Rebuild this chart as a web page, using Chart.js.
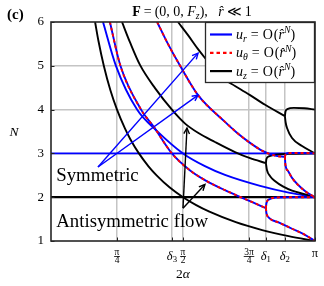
<!DOCTYPE html>
<html>
<head>
<meta charset="utf-8">
<script src="https://cdn.jsdelivr.net/npm/chart.js@4.4.0/dist/chart.umd.min.js"></script>
<style>
html,body{margin:0;padding:0;background:#fff;}
canvas{display:block;}
</style>
</head>
<body>
<canvas id="c" width="324" height="286"></canvas>
<script>
// ---------- DATA (x in units of pi, i.e. 2α/π ; y = N) ----------
const X_TICK_VALUES = [0.25, 0.458, 0.5, 0.75, 0.814, 0.886, 1];
const X_TICK_LABELS = ['π/4', 'δ3', 'π/2', '3π/4', 'δ1', 'δ2', 'π'];
const Y_TICK_VALUES = [1, 2, 3, 4, 5, 6];

// u_z (black) curves
const UZ_A = [[0.167,6],[0.18,5.56],[0.2,5],[0.225,4.44],[0.25,4],[0.28,3.57],[0.3,3.33],[0.333,3],[0.37,2.7],[0.4,2.5],[0.45,2.22],[0.5,2],[0.55,1.82],[0.6,1.67],[0.7,1.43],[0.8,1.25],[0.9,1.11],[1,1]];
const UZ_B = [[0.269,6],[0.299,5.54],[0.337,5.02],[0.394,4.49],[0.462,3.97],[0.508,3.68],[0.557,3.47],[0.621,3.26],[0.697,3.03],[0.754,2.89],[0.814,2.78]];
const UZ_B_UP = [[0.814,2.78],[0.816,2.87],[0.825,2.93],[0.85,2.97],[0.9,2.99],[1,3]];
const UZ_B_LOW = [[0.814,2.78],[0.818,2.62],[0.83,2.48],[0.848,2.37],[0.88,2.24],[0.913,2.15],[0.96,2.07],[1,2]];
const UZ_C = [[0.481,6],[0.519,5.7],[0.557,5.38],[0.595,5.09],[0.625,4.86],[0.659,4.68],[0.697,4.54],[0.754,4.33],[0.811,4.11],[0.886,3.85]];
const UZ_C_UP = [[0.886,3.85],[0.888,3.95],[0.895,4.01],[0.92,4.04],[0.96,4.03],[1,4]];
const UZ_C_LOW = [[0.886,3.85],[0.889,3.7],[0.894,3.58],[0.913,3.35],[0.951,3.17],[1,3]];
const UZ_FLAT = [[0,2],[1,2]];

// u_r only (blue)
const UR_FLAT = [[0,3],[1,3]];
const UR_B = [[0.197,6],[0.246,5],[0.326,4],[0.402,3.51],[0.5,3],[0.583,2.71],[0.659,2.51],[0.792,2.26],[0.905,2.1],[1,2]];

// u_r and u_theta (blue + red dashed)
const URT_A = [[0.223,6],[0.263,5],[0.341,4],[0.39,3.6],[0.458,3],[0.527,2.61],[0.583,2.39],[0.659,2.16],[0.754,1.91],[0.814,1.75]];
const URT_A_UP = [[0.814,1.75],[0.816,1.86],[0.826,1.95],[0.85,1.99],[0.9,2],[1,2]];
const URT_A_LOW = [[0.814,1.75],[0.816,1.64],[0.826,1.53],[0.864,1.42],[0.913,1.28],[0.962,1.14],[1,1]];
const URT_B = [[0.402,6],[0.443,5.5],[0.489,5],[0.557,4.33],[0.659,3.72],[0.701,3.49],[0.754,3.24],[0.803,3.05],[0.848,2.95],[0.886,2.92]];
const URT_B_UP = [[0.886,2.92],[0.889,2.98],[0.9,3.01],[0.95,3.01],[1,3]];
const URT_B_LOW = [[0.886,2.92],[0.888,2.74],[0.898,2.6],[0.913,2.44],[0.962,2.14],[1,2]];

// annotation arrows [x0, N0, x1, N1]
const SYM_ARROWS = [[0.178,2.69,0.557,5.29],[0.178,2.69,0.557,4.33]];
const ANTI_ARROWS = [[0.5,1.75,0.515,3.58],[0.5,1.75,0.583,2.29]];
const SYM_TEXT = {x:0.02, y:2.37, t:'Symmetric'};
const ANTI_TEXT = {x:0.02, y:1.32, t:'Antisymmetric flow'};

// ---------- BUILD ----------
const BLUE = '#0000ff', RED = '#ff0000', BLACK = '#000000';
const SERIF = '"Liberation Serif","DejaVu Serif",serif';
function ds(data, color, width, dash, order) {
  return { data: data.map(p => ({x: p[0], y: p[1]})), borderColor: color, backgroundColor: color,
    borderWidth: width, borderDash: dash || [], showLine: true, pointRadius: 0, fill: false,
    cubicInterpolationMode: 'monotone', order: order };
}
const datasets = [];
[UZ_A, UZ_B, UZ_B_UP, UZ_B_LOW, UZ_C, UZ_C_UP, UZ_C_LOW].forEach(d => datasets.push(ds(d, BLACK, 1.9, null, 3)));
datasets.push(ds(UZ_FLAT, BLACK, 2.2, null, 2));
[UR_FLAT, UR_B].forEach(d => datasets.push(ds(d, BLUE, 1.9, null, 4)));
[URT_A, URT_A_UP, URT_A_LOW, URT_B, URT_B_UP, URT_B_LOW].forEach(d => {
  datasets.push(ds(d, BLUE, 1.9, null, 1));
  datasets.push(ds(d, RED, 1.9, [3, 3], 0));
});

function drawRich(ctx, x, y, parts, size, align) {
  const items = parts.map(p => {
    const s = (p.sub || p.sup) ? size * 0.7 : size;
    const font = (p.b ? 'bold ' : '') + (p.i ? 'italic ' : '') + s + 'px ' + SERIF;
    ctx.font = font;
    const m = ctx.measureText(p.t).width + (p.gap || 0);
    return {t: p.t, font, m, pre: (p.pre || 0), dy: p.sub ? size * 0.22 : (p.sup ? -size * 0.4 : 0)};
  });
  const w = items.reduce((a, b) => a + b.m + b.pre, 0);
  let cx = align === 'center' ? x - w / 2 : (align === 'right' ? x - w : x);
  ctx.textAlign = 'left';
  for (const it of items) { cx += it.pre; ctx.font = it.font; ctx.fillText(it.t, cx, y + it.dy); cx += it.m; }
  return w;
}

function arrow(ctx, x0, y0, x1, y1, color) {
  ctx.save();
  ctx.strokeStyle = color; ctx.lineWidth = 1.4;
  ctx.beginPath(); ctx.moveTo(x0, y0); ctx.lineTo(x1, y1); ctx.stroke();
  const a = Math.atan2(y1 - y0, x1 - x0), L = 6.5, w = 0.45;
  ctx.beginPath();
  ctx.moveTo(x1 - L * Math.cos(a - w), y1 - L * Math.sin(a - w));
  ctx.lineTo(x1, y1);
  ctx.lineTo(x1 - L * Math.cos(a + w), y1 - L * Math.sin(a + w));
  ctx.stroke();
  ctx.restore();
}

const decor = {
  id: 'decor',
  afterDatasetsDraw(chart) {
    const ctx = chart.ctx, xs = chart.scales.x, ys = chart.scales.y, ca = chart.chartArea;
    ctx.save();
    ctx.fillStyle = '#000';
    ctx.textBaseline = 'alphabetic';
    // annotation arrows
    SYM_ARROWS.forEach(a => arrow(ctx, xs.getPixelForValue(a[0]), ys.getPixelForValue(a[1]), xs.getPixelForValue(a[2]), ys.getPixelForValue(a[3]), BLUE));
    ANTI_ARROWS.forEach(a => arrow(ctx, xs.getPixelForValue(a[0]), ys.getPixelForValue(a[1]), xs.getPixelForValue(a[2]), ys.getPixelForValue(a[3]), BLACK));
    ctx.fillStyle = '#000';
    ctx.font = '18.8px ' + SERIF; ctx.textAlign = 'left';
    ctx.fillText(SYM_TEXT.t, xs.getPixelForValue(SYM_TEXT.x), ys.getPixelForValue(SYM_TEXT.y));
    ctx.fillText(ANTI_TEXT.t, xs.getPixelForValue(ANTI_TEXT.x), ys.getPixelForValue(ANTI_TEXT.y));

    // inward tick marks
    ctx.strokeStyle = '#222'; ctx.lineWidth = 1;
    X_TICK_VALUES.forEach(v => { const px = Math.round(xs.getPixelForValue(v)) + 0.5; ctx.beginPath(); ctx.moveTo(px, ca.bottom); ctx.lineTo(px, ca.bottom - 3.5); ctx.stroke(); });
    Y_TICK_VALUES.forEach(v => { const py = Math.round(ys.getPixelForValue(v)) + 0.5; ctx.beginPath(); ctx.moveTo(ca.left, py); ctx.lineTo(ca.left + 3.5, py); ctx.stroke(); });

    // legend box
    const lx = 205, ly = ca.top, lw = ca.right - 205, lh = 61;
    ctx.fillStyle = '#fff'; ctx.fillRect(lx, ly, lw, lh);
    ctx.strokeStyle = '#2a2a2a'; ctx.lineWidth = 1.3; ctx.strokeRect(lx + 0.5, ly + 0.5, lw - 1, lh - 1);
    const rows = [{c: [BLUE], sub: 'r'}, {c: [BLUE, RED], sub: 'θ'}, {c: [BLACK], sub: 'z'}];
    rows.forEach((r, i) => {
      const y = ly + 12.5 + i * 18.3;
      if (r.c.length === 2) {
        ctx.strokeStyle = RED; ctx.lineWidth = 2.2; ctx.setLineDash([3.5, 3]);
        ctx.beginPath(); ctx.moveTo(210, y); ctx.lineTo(232, y); ctx.stroke(); ctx.setLineDash([]);
      } else {
        ctx.strokeStyle = r.c[0]; ctx.lineWidth = 2.2;
        ctx.beginPath(); ctx.moveTo(210, y); ctx.lineTo(232, y); ctx.stroke();
      }
      ctx.fillStyle = '#000';
      drawRich(ctx, 236, y + 4.5, [{t:'u', i:1}, {t:r.sub, i:1, sub:1}, {t:'=', pre:4, gap:4}, {t:'O', gap:1}, {t:'('}, {t:'r̂', i:1}, {t:'N', i:1, sup:1}, {t:')'}], 14, 'left');
    });

    // frame
    ctx.strokeStyle = '#262626'; ctx.lineWidth = 1.6;
    ctx.strokeRect(ca.left, ca.top, ca.right - ca.left, ca.bottom - ca.top);

    // x tick labels
    ctx.fillStyle = '#000';
    X_TICK_VALUES.forEach((v, i) => {
      const px = xs.getPixelForValue(v), lab = X_TICK_LABELS[i];
      if (lab.indexOf('/') >= 0) {
        const [nu, de] = lab.split('/');
        ctx.font = '9.5px ' + SERIF; ctx.textAlign = 'center';
        ctx.fillText(nu, px, ca.bottom + 13.5);
        ctx.fillText(de, px, ca.bottom + 22);
        const w = Math.max(ctx.measureText(nu).width, ctx.measureText(de).width) + 1;
        ctx.fillRect(px - w / 2, ca.bottom + 15, w, 0.8);
      } else if (lab[0] === 'δ') {
        drawRich(ctx, px, ca.bottom + 18.5, [{t:'δ', i:1}, {t:lab.slice(1), sub:1}], 12.5, 'center');
      } else {
        ctx.font = '12.5px ' + SERIF; ctx.textAlign = 'center';
        ctx.fillText(lab, px, ca.bottom + 16);
      }
    });
    // axis titles
    drawRich(ctx, (ca.left + ca.right) / 2, ca.bottom + 37, [{t:'2'}, {t:'α', i:1}], 13.5, 'center');
    ctx.font = 'italic 13.5px ' + SERIF; ctx.textAlign = 'center';
    ctx.fillText('N', 14, (ca.top + ca.bottom) / 2 + 4);
    // title
    drawRich(ctx, 192, 15.5, [{t:'F', b:1}, {t:'=', pre:3, gap:3}, {t:'(0, 0, '}, {t:'F', i:1}, {t:'z', i:1, sub:1}, {t:'),   '}, {t:'r̂', i:1}, {t:'≪', pre:3, gap:3}, {t:'1'}], 14, 'center');
    // panel label
    ctx.font = 'bold 15px ' + SERIF; ctx.textAlign = 'left';
    ctx.fillText('(c)', 7, 19);
    ctx.restore();
  }
};

new Chart(document.getElementById('c').getContext('2d'), {
  type: 'scatter',
  data: { datasets },
  options: {
    responsive: false, animation: false, devicePixelRatio: 1,
    layout: { padding: { left: 0, right: 9, top: 22, bottom: 0 } },
    plugins: { legend: { display: false }, tooltip: { enabled: false } },
    scales: {
      x: {
        type: 'linear', min: 0, max: 1,
        afterBuildTicks: s => { s.ticks = X_TICK_VALUES.map(v => ({ value: v })); },
        afterFit: s => { s.height = 45; },
        ticks: { display: false },
        grid: { drawTicks: false, lineWidth: 1.5, color: c => (c.tick && c.tick.value >= 1) ? 'rgba(0,0,0,0)' : '#c4c4c4' },
        border: { display: false }
      },
      y: {
        type: 'linear', min: 1, max: 6,
        afterBuildTicks: s => { s.ticks = Y_TICK_VALUES.map(v => ({ value: v })); },
        afterFit: s => { s.width = 51; },
        ticks: { padding: 7, color: '#000', font: { family: SERIF, size: 13 }, callback: v => String(v) },
        grid: { drawTicks: false, lineWidth: 1.5, color: c => (c.tick && (c.tick.value <= 1 || c.tick.value >= 6)) ? 'rgba(0,0,0,0)' : '#c4c4c4' },
        border: { display: false }
      }
    }
  },
  plugins: [decor]
});
</script>
</body>
</html>
